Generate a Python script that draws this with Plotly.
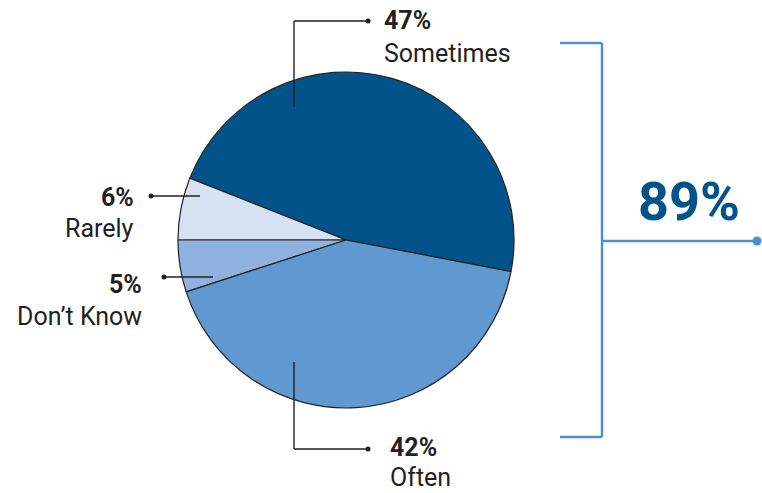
import plotly.graph_objects as go

# ---- data ----
labels = ["Sometimes", "Rarely", "Don\u2019t Know", "Often"]
values = [47, 6, 5, 42]
colors = ["#02538a", "#d6e2f3", "#8fb2df", "#6099d0"]
bracket_members = ["Sometimes", "Often"]

W, H = 762, 493
fig = go.Figure()

cx, cy, r = 346, 240, 168
fig.add_trace(go.Pie(
    labels=labels, values=values, sort=False, direction="counterclockwise",
    rotation=-68.4, marker=dict(colors=colors, line=dict(color="#222222", width=1.2)),
    textinfo="none", hoverinfo="label+percent", showlegend=False,
    domain=dict(x=[(cx - r) / W, (cx + r) / W], y=[(H - cy - r) / H, (H - cy + r) / H]),
))

ink = "#231f20"
lw = 1.4
font_fam = "Roboto, 'DejaVu Sans', sans-serif"
shapes = []
def line(x0, y0, x1, y1, color=ink, width=lw):
    shapes.append(dict(type="line", xref="x", yref="y", x0=x0, y0=y0, x1=x1, y1=y1,
                       line=dict(color=color, width=width)))

# leader lines
line(294, 107, 294, 21); line(294, 21, 368, 21)      # Sometimes
line(151, 196, 200, 196)                             # Rarely
line(164, 277, 213, 277)                             # Don't Know
line(294, 362, 294, 449); line(294, 449, 368, 449)   # Often

# bracket
bc = "#4a8fd4"
line(560, 43, 602, 43, bc, 2.4)
line(602, 43, 602, 437, bc, 2.4)
line(602, 437, 560, 437, bc, 2.4)
line(602, 241, 757, 241, bc, 2.4)

dots_x = [368, 151, 164, 368]
dots_y = [21, 196, 277, 449]
fig.add_trace(go.Scatter(x=dots_x, y=dots_y, mode="markers",
                         marker=dict(color=ink, size=5), hoverinfo="skip", showlegend=False))
fig.add_trace(go.Scatter(x=[757], y=[241], mode="markers",
                         marker=dict(color=bc, size=9), hoverinfo="skip", showlegend=False))

# labels
pos = {
    "Sometimes": (383, 20, 53, "left"),
    "Rarely": (135, 197, 228, "right"),
    "Don\u2019t Know": (143, 284, 316, "right"),
    "Often": (389, 447, 477, "left"),
}
anns = []
for lab, v in zip(labels, values):
    x, y1, y2, al = pos[lab]
    anns.append(dict(x=x, y=y1, xref="x", yref="y", text=f"<b>{v}%</b>", showarrow=False,
                     xanchor=al, yanchor="middle", borderpad=0,
                     font=dict(family=font_fam, size=25, color=ink)))
    anns.append(dict(x=x, y=y2, xref="x", yref="y", text=lab, showarrow=False,
                     xanchor=al, yanchor="middle", borderpad=0,
                     font=dict(family=font_fam, size=25, color=ink)))

total = sum(v for l, v in zip(labels, values) if l in bracket_members)
anns.append(dict(x=689, y=201, xref="x", yref="y", text=f"<b>{total}%</b>", showarrow=False,
                 xanchor="center", yanchor="middle", font=dict(family=font_fam, size=54, color="#02538a")))

fig.update_layout(
    width=W, height=H, margin=dict(l=0, r=0, t=0, b=0),
    paper_bgcolor="white", plot_bgcolor="white",
    xaxis=dict(range=[0, W], visible=False, fixedrange=True),
    yaxis=dict(range=[H, 0], visible=False, fixedrange=True),
    shapes=shapes, annotations=anns,
)
fig.write_html("out.html")
